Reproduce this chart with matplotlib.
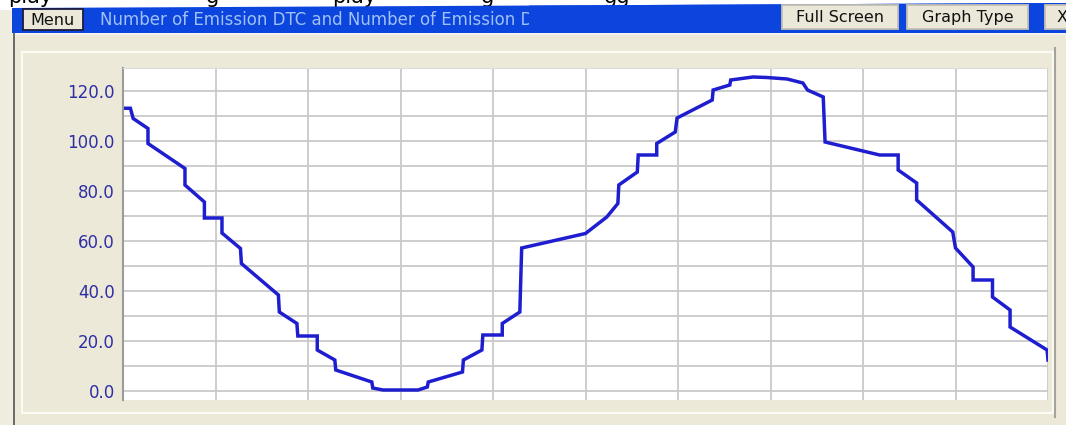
import numpy as np
import matplotlib.pyplot as plt
from matplotlib.patches import Rectangle, Polygon

# emission DTC count trace (sample index 0-100, count)
trace_x = [0, 0.8, 1.1, 2.7, 2.7, 6.7, 6.7, 8.8, 8.8, 10.7,
           10.7, 12.7, 12.8, 16.8, 16.9, 18.8, 18.9, 21.0, 21.0, 22.9,
           23.0, 26.9, 27.0, 28.1, 31.9, 32.9, 33.0, 36.7, 36.8, 38.8,
           38.9, 41.0, 41.0, 42.9, 43.1, 50.0, 52.3, 53.5, 53.6, 55.6,
           55.7, 57.7, 57.7, 59.7, 59.9, 63.7, 63.8, 65.6, 65.7, 68.1,
           69.6, 71.8, 73.5, 74.0, 75.7, 75.9, 81.8, 83.8, 83.8, 85.8,
           85.8, 89.7, 90.0, 91.9, 91.9, 94.0, 94.0, 95.9, 95.9, 99.9,
           100]
trace_y = [113.1, 113.1, 109, 105, 99, 89, 82.4, 75.6, 69.2, 69.2,
           63.2, 57, 51, 38.4, 31.6, 27, 22, 22, 16.4, 12.4,
           8.4, 3.6, 1.2, 0.4, 0.4, 1.6, 3.6, 7.6, 12.4, 16.4,
           22.4, 22.4, 27, 31.6, 57.2, 63, 69.6, 75, 82.4, 87.6,
           94.4, 94.4, 99, 103.6, 109.2, 116.4, 120.4, 122.4, 124.4, 125.6,
           125.4, 124.8, 123.2, 120.4, 117.6, 99.6, 94.4, 94.4, 88.4, 83.2,
           76.4, 63.6, 57.2, 49.6, 44.4, 44.4, 37.6, 32.4, 25.6, 16.4,
           12.4]

y_ticks = [0, 20, 40, 60, 80, 100, 120]
title = "Number of Emission DTC and Number of Emission DTC"
buttons = ["Menu", "Full Screen", "Graph Type", "X"]

W, H = 1066, 425
BEIGE = "#ece9d8"
BLUE = "#0c44de"
fig = plt.figure(figsize=(W / 100, H / 100), dpi=100, facecolor=BEIGE)

# window chrome drawn in pixel coordinates
bg = fig.add_axes([0, 0, 1, 1])
bg.set_xlim(0, W)
bg.set_ylim(H, 0)
bg.axis("off")

def box(x0, y0, x1, y1, **kw):
    bg.add_patch(Rectangle((x0, y0), x1 - x0, y1 - y0, **kw))

def bar_top(x):
    # title bar top edge runs slightly uphill to the right
    return 8 - 5 * (x - 12) / (W - 12)

box(0, 0, 13, H, color="#efede0", lw=0)
box(0, 0, W, 10, color="white", lw=0)
bg.add_patch(Polygon([(12, bar_top(12)), (W, bar_top(W)), (W, 33), (12, 33)],
                     closed=True, color=BLUE, lw=0, zorder=2))
box(12, 33, W, 35, color="#f4f2ea", lw=0, zorder=2)
box(13, 33, 15, H, color="#6c6c6c", lw=0, zorder=2)

# cut-off text line above the window
for x, s in [(8, "play"), (206, "g"), (332, "play"), (481, "g"), (604, "gg")]:
    bg.text(x, 2.5, s, fontsize=15, color="black", va="baseline",
            ha="left", clip_on=True, zorder=1)

# inner panel frame
box(22, 52, 1053, 413, facecolor="none", edgecolor="#fbfaf4", lw=1.5)
bg.plot([1055, 1055], [48, 417], color="#a4a39a", lw=1.5)

# title text, cut off by the blue strip before the right buttons
bg.text(100, 20, title, fontsize=12, color="#9ec2f6", va="center",
        ha="left", zorder=3)
bg.add_patch(Polygon([(529, bar_top(529)), (W, bar_top(W)), (W, 33),
                      (529, 33)], closed=True, color=BLUE, lw=0, zorder=4))

def button(x0, y0, x1, y1, label, edge):
    box(x0, y0, x1, y1, facecolor="#ebe8d9", edgecolor=edge, lw=1.3, zorder=5)
    bg.text((x0 + x1) / 2, (y0 + y1) / 2 + 0.5, label, fontsize=11.5,
            color="#111111", ha="center", va="center", zorder=6,
            clip_on=True)

button(23, 9, 83, 30, buttons[0], "#1c1c3c")
button(782, 5, 898, 29, buttons[1], "#c4c1b2")
button(907, 5, 1028, 29, buttons[2], "#c4c1b2")
button(1045, 5, 1080, 29, buttons[3], "#c4c1b2")

# plot area
ax = fig.add_axes([123 / W, (H - 400) / H, 925 / W, 332 / H])
ax.set_facecolor("white")
ax.set_xlim(0, 100)
ax.set_ylim(-3.6, 129.2)
ax.set_xticks(np.arange(0, 101, 10))
ax.set_yticks(np.arange(0, 121, 10), minor=True)
ax.set_yticks(y_ticks)
ax.set_yticklabels(["%.1f" % v for v in y_ticks])
ax.tick_params(axis="y", length=0, pad=6, labelsize=12, labelcolor="#2e2ea6")
ax.tick_params(axis="y", which="minor", length=0)
ax.tick_params(axis="x", length=0, labelbottom=False)
ax.grid(True, which="both", color="#c9c9c9", lw=1.3)
ax.set_axisbelow(True)
for side in ["bottom", "right"]:
    ax.spines[side].set_visible(False)
ax.spines["top"].set_color("#dddddd")
ax.spines["left"].set_color("#9c9c9c")
ax.spines["left"].set_linewidth(1.5)

ax.plot(trace_x, trace_y, color="#1e1ed0", lw=2.5, solid_joinstyle="miter")

fig.savefig("out.png", dpi=100, facecolor=BEIGE)
